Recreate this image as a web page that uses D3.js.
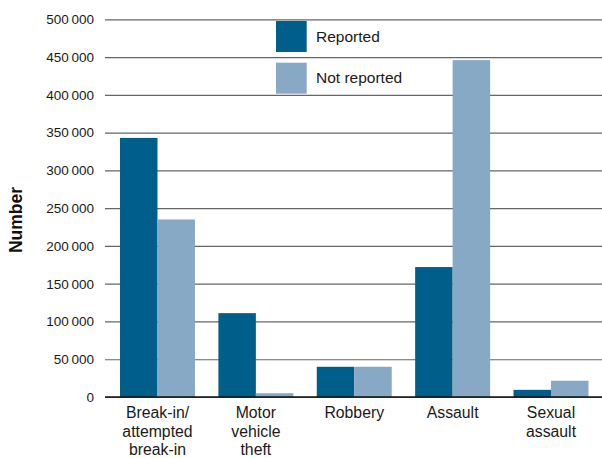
<!DOCTYPE html>
<html>
<head>
<meta charset="utf-8">
<script src="https://cdn.jsdelivr.net/npm/d3@7"></script>
<style>
  body { margin: 0; background: #fff; }
  svg { display: block; font-family: "Liberation Sans", Arial, sans-serif; }
</style>
</head>
<body>
<svg id="chart"></svg>
<script>
var w = 602;
var h = 458;

// chart values
var categories = [["Break-in/", "attempted", "break-in"], ["Motor", "vehicle", "theft"], ["Robbery"], ["Assault"], ["Sexual", "assault"]];
var reported = [343000, 111000, 40000, 172000, 9500];
var notReported = [235000, 5000, 40000, 446000, 21500];
var seriesNames = ["Reported", "Not reported"];
var yTicks = [0, 50000, 100000, 150000, 200000, 250000, 300000, 350000, 400000, 450000, 500000];
var colors = ["#005f8a", "#87a9c6"];

var svg = d3.select("#chart")
  .attr("width", w)
  .attr("height", h);

var y = d3.scaleLinear()
  .domain([0, 500000])
  .range([397, 19.3]);

var x0 = d3.scaleBand()
  .domain(d3.range(categories.length))
  .range([108.3, 600.2])
  .paddingInner(0.238)
  .paddingOuter(0.119);

var x1 = d3.scaleBand()
  .domain([0, 1])
  .range([0, x0.bandwidth()]);

var fmt = function (v) {
  return d3.format(",")(v).replace(/,/g, "\u2009");
};

// gridlines + tick labels
var yAxis = d3.axisLeft(y)
  .tickValues(yTicks)
  .tickSize(-(w - 105))
  .tickPadding(11)
  .tickFormat(fmt);

var ag = svg.append("g")
  .attr("transform", "translate(105,0)")
  .call(yAxis);
ag.select(".domain").remove();
ag.selectAll(".tick line")
  .attr("stroke", "#666")
  .attr("stroke-width", 1.2);
ag.selectAll(".tick text")
  .attr("fill", "#1a1a1a")
  .style("font-size", "13.5px");

// bars
var groups = svg.append("g").selectAll("g")
  .data(categories.map(function (c, i) { return [reported[i], notReported[i]]; }))
  .enter()
  .append("g")
  .attr("transform", function (d, i) { return "translate(" + x0(i) + ",0)"; });

groups.selectAll("rect")
  .data(function (d) { return d; })
  .enter()
  .append("rect")
  .attr("x", function (d, j) { return x1(j); })
  .attr("width", x1.bandwidth())
  .attr("y", function (d) { return y(d); })
  .attr("height", function (d) { return y(0) - y(d); })
  .attr("fill", function (d, j) { return colors[j]; });

// zero line
svg.append("line")
  .attr("x1", 105).attr("x2", w)
  .attr("y1", y(0)).attr("y2", y(0))
  .attr("stroke", "#111")
  .attr("stroke-width", 1.5);

// category labels
var xl = svg.append("g").selectAll("text")
  .data(categories)
  .enter()
  .append("text")
  .attr("text-anchor", "middle")
  .attr("fill", "#1a1a1a")
  .style("font-size", "15.8px")
  .attr("x", function (d, i) { return x0(i) + x0.bandwidth() / 2; })
  .attr("y", 418);
xl.selectAll("tspan")
  .data(function (d) { return d; })
  .enter()
  .append("tspan")
  .attr("x", function () { return d3.select(this.parentNode).attr("x"); })
  .attr("dy", function (d, k) { return k === 0 ? 0 : 18.5; })
  .text(function (d) { return d; });

// y title
svg.append("text")
  .attr("transform", "translate(22,220) rotate(-90)")
  .attr("text-anchor", "middle")
  .style("font-size", "17.5px")
  .style("font-weight", "bold")
  .attr("fill", "#111")
  .text("Number");

// legend
var leg = svg.append("g").selectAll("g")
  .data(seriesNames)
  .enter()
  .append("g")
  .attr("transform", function (d, i) { return "translate(276," + (21 + i * 41.7) + ")"; });
leg.append("rect")
  .attr("width", 30.7)
  .attr("height", 31)
  .attr("fill", function (d, i) { return colors[i]; });
leg.append("text")
  .attr("x", 40)
  .attr("y", 20.7)
  .style("font-size", "15.5px")
  .attr("fill", "#1a1a1a")
  .text(function (d) { return d; });
</script>
</body>
</html>
